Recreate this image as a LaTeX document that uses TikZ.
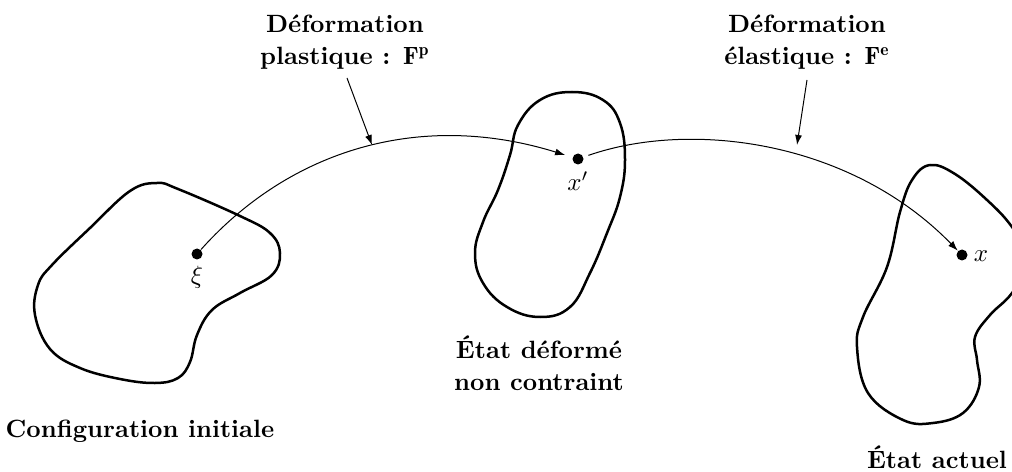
\documentclass[tikz,border=0pt]{standalone}
\usepackage{fontspec}
\usetikzlibrary{arrows.meta}
\tikzset{
  body/.style={line width=1pt, line join=round},
  dotpt/.style={circle, fill, inner sep=0pt, minimum size=4.4pt},
  lab/.style={font=\bfseries, align=center},
  flow/.style={line width=0.4pt, -{Latex[length=4pt,width=2.8pt]}},
}
\begin{document}
\begin{tikzpicture}[x=0.4pt,y=-0.4pt]
\clip (0,0) rectangle (1012,472);
% shapes
\draw[body] plot[smooth cycle, tension=0.65] coordinates {(157,183) (178,189) (240,216) (270,233) (280,253) (272,275) (240,293) (212,310) (197,335) (190,362) (178,378) (155,383) (120,379) (80,368) (50,349) (35,315) (38,285) (52,265) (90,228) (130,191)};
\draw[body] plot[smooth cycle, tension=0.7] coordinates {(572,92) (540,100) (518,125) (510,155) (498,190) (483,222) (475,253) (483,283) (507,307) (540,317) (570,307) (590,273) (607,233) (620,197) (625,160) (620,123) (603,100)};
\draw[body] plot[smooth cycle, tension=0.65] coordinates {(930,165) (912,180) (900,212) (887,267) (863,317) (857,347) (868,393) (903,420) (933,423) (963,413) (979,387) (977,360) (975,337) (990,315) (1012,293) (1030,260) (1012,227) (987,200) (955,174)};
% points
\node[dotpt] (xi) at (197,254) {};
\node[dotpt] (xp) at (578,159) {};
\node[dotpt] (x) at (962,255) {};
\node (lxi) at (197,277) {$\xi$};
\node (lxp) at (578,181) {$x'$};
\node (lx) at (981,256) {$x$};
% transformations
\draw[flow, shorten >=3pt] (xi) .. controls (290,150) and (420,110) .. (xp);
\draw[flow, shorten <=2pt] (xp) .. controls (690,120) and (850,140) .. (x);
% labels
\node[lab] (fp) at (345,42) {Déformation\\[1pt]plastique : $\mathbf{F}^{\mathbf{p}}$};
\node[lab] (fe) at (807,42) {Déformation\\[1pt]élastique : $\mathbf{F}^{\mathbf{e}}$};
\coordinate (p1s) at (347,78);
\coordinate (p1e) at (372,145);
\coordinate (p2s) at (807,80);
\coordinate (p2e) at (797,145);
\draw[flow] (p1s) -- (p1e);
\draw[flow] (p2s) -- (p2e);
\node[lab] (ci) at (140,437) [anchor=base] {Configuration initiale};
\node[lab] (ed) at (539,363) {État déformé\\[1pt]non contraint};
\node[lab] (ea) at (937,468) [anchor=base] {État actuel};
\end{tikzpicture}
\end{document}
